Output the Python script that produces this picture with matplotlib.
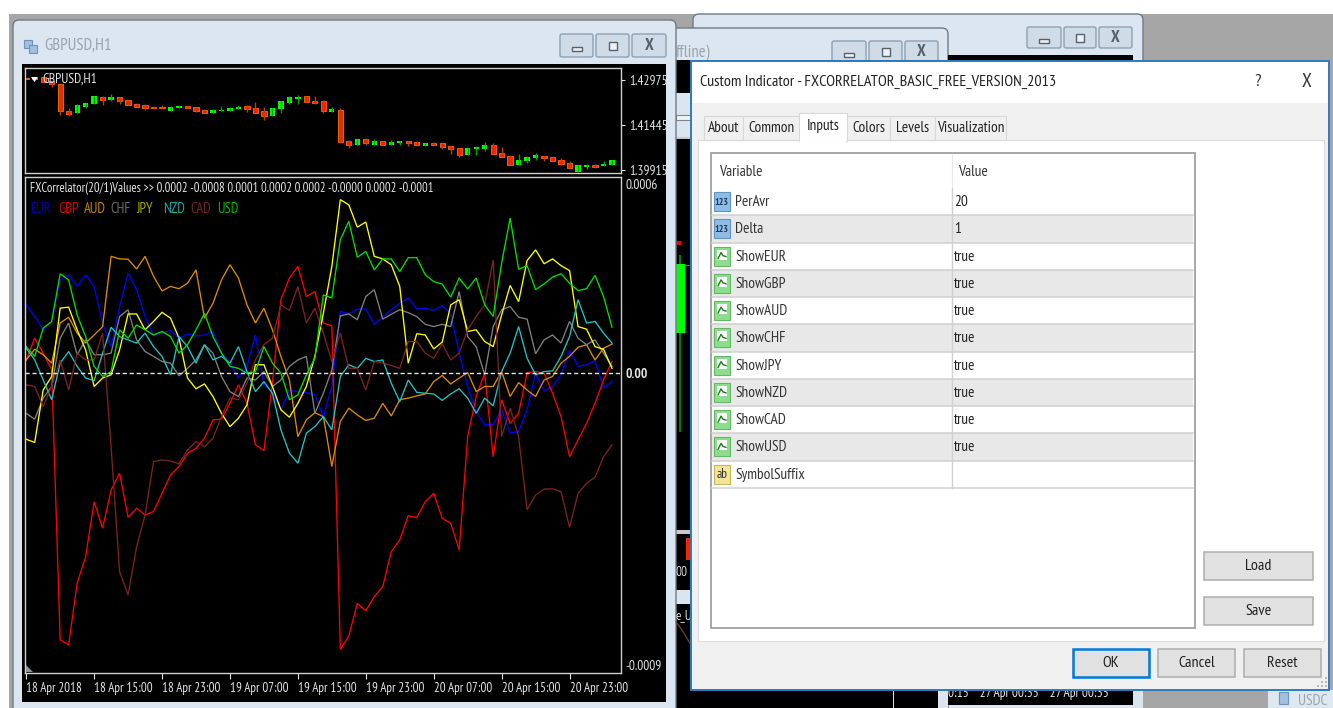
import matplotlib
matplotlib.use("Agg")
import matplotlib.pyplot as plt
import numpy as np
from matplotlib.patches import FancyBboxPatch, Polygon, Rectangle

plt.rcParams["font.family"] = ["PT Sans Narrow", "Archivo Narrow", "Liberation Sans", "DejaVu Sans"]

# GBPUSD H1 candles, prices in points (1e-5)
opens = [143033, 143033, 143055, 142943, 142830, 141929, 141839, 142053, 142166, 142380,
         142290, 142380, 142278, 142154, 142109, 142053, 142053, 141929, 142019, 142098,
         142053, 141963, 141839, 141929, 141929, 141985, 142076, 142008, 141918, 141738,
         141974, 142199, 142323, 142425, 142267, 142244, 141884, 141963, 140916, 140781,
         140961, 140781, 140905, 140781, 140837, 140916, 140871, 140747, 140837, 140826,
         140724, 140679, 140420, 140646, 140634, 140769, 140499, 140398, 140094, 140229,
         140319, 140398, 140364, 140263, 140173, 139869, 140026, 140094, 140049, 140094]
closes = [142988, 142988, 142898, 142830, 141929, 141817, 142109, 142188, 142425, 142290,
          142391, 142244, 142121, 142064, 142019, 142019, 142019, 142053, 142098, 142031,
          141929, 141839, 141963, 141963, 142019, 142064, 141985, 141839, 141738, 142008,
          142256, 142380, 142402, 142211, 142199, 141929, 141974, 140882, 140769, 140961,
          140826, 140916, 140781, 140871, 140916, 140837, 140769, 140826, 140781, 140691,
          140646, 140420, 140679, 140691, 140781, 140465, 140364, 140105, 140274, 140364,
          140420, 140319, 140229, 140139, 140004, 140083, 140083, 140038, 140139, 140274]
highs = [143033, 143033, 143055, 142943, 142830, 142019, 142154, 142188, 142425, 142425,
         142481, 142380, 142278, 142199, 142154, 142076, 142109, 142087, 142098, 142098,
         142053, 141997, 141997, 142076, 142064, 142109, 142132, 142211, 142053, 142008,
         142256, 142425, 142470, 142425, 142425, 142290, 142064, 142019, 140950, 140961,
         141006, 140961, 140905, 140927, 140916, 140916, 140916, 140826, 140871, 140826,
         140724, 140679, 140679, 140736, 140871, 140826, 140691, 140443, 140454, 140409,
         140499, 140398, 140398, 140319, 140218, 140083, 140139, 140128, 140229, 140274]
lows = [142988, 142988, 142898, 142717, 141794, 141738, 141839, 142019, 142166, 142109,
        142244, 142166, 142121, 142064, 141963, 141974, 142019, 141929, 142019, 142031,
        141884, 141839, 141839, 141929, 141929, 141985, 141884, 141839, 141603, 141738,
        141839, 142166, 142166, 142211, 142166, 141839, 141884, 140826, 140679, 140781,
        140781, 140781, 140781, 140781, 140781, 140736, 140736, 140747, 140769, 140646,
        140454, 140375, 140420, 140420, 140555, 140465, 140364, 140105, 140094, 140173,
        140274, 140229, 140229, 140094, 140004, 139869, 139959, 140004, 140049, 140094]

# FXCorrelator lines, values in 1e-6
eur = [211, 175, 134, 160, 288, 304, 268, 304, 268, 155, 82, 206, 309, 258, 175, 118, 124, 132, 108, 122,
       115, 118, 129, 62, 31, -15, 21, 118, -36, -57, -113, -52, -57, -60, -67, -134, -41, 191, 183, 198,
       198, 151, 173, 196, 216, 232, 198, 201, 194, 209, 183, 62, -41, -118, -160, -158, -113, -185, -180, -113,
       0, -55, -41, -5, 70, 21, 26, 39, -46, -26]
gbp = [41, 108, 62, 10, -824, -839, -649, -567, -397, -479, -361, -309, -445, -417, -438, -427, -371, -314, -288, -247,
       -232, -201, -144, -142, -93, -36, -93, -221, -239, -31, 227, 294, 330, 237, 252, 155, 146, -853, -812, -711,
       -734, -690, -659, -551, -515, -440, -446, -397, -371, -448, -464, -546, -196, -72, 0, -258, -82, -155, -124, 2,
       5, 0, -62, -134, -258, -206, -155, -93, -21, 36]
aud = [41, 74, 57, 31, 155, 173, 124, 93, 118, 144, 361, 353, 352, 322, 361, 299, 254, 268, 261, 278,
       319, 170, 216, 288, 335, 294, 211, 155, 201, 134, 52, -21, -196, -144, -122, -134, -288, -149, -108, -129,
       -146, -139, -93, -132, -82, -77, -70, -64, -26, -7, -33, -15, 2, -57, -41, -41, 5, -72, -29, -52,
       -72, -21, -10, 31, 52, 80, 88, 41, 77, 90]
chf = [-124, -142, -77, -41, 108, 155, 57, 103, 57, 57, 62, 175, 196, 103, 67, 52, 36, 31, -8, 15,
       41, 88, 62, -10, -57, -72, -15, -21, 5, -41, -21, 21, 41, 52, -124, -62, 10, 177, 183, 165,
       237, 258, 167, 182, 196, 187, 175, 151, 144, 151, 144, 252, 113, 82, -5, 144, 196, 206, 173, 167,
       60, 103, 118, 93, 160, 108, 88, 103, 62, 21]
jpy = [-204, -214, -52, -10, 201, 204, 134, 72, -41, -15, -5, 72, 183, 183, 134, 160, 188, 170, 108, -15,
       -48, -33, -72, -124, -165, -139, -98, 26, 26, -41, -113, -136, -93, -41, 52, 185, 330, 536, 520, 451,
       467, 361, 353, 335, 268, 31, 122, 118, 75, 96, 211, 227, 129, 134, 98, 82, 180, 271, 221, 348,
       381, 338, 353, 332, 317, 144, 136, 82, 74, 15]
nzd = [77, 41, -21, -82, 31, 67, 21, -15, -23, 62, 142, 113, 103, 93, 124, 82, 52, -5, 113, 82,
       31, 88, 41, 52, 31, 82, 5, -57, -26, -62, -175, -247, -278, -185, -165, -134, -175, -10, 26, 15,
       46, 36, 41, -31, -88, -21, -59, -62, -64, -84, -64, -48, -77, -124, -77, -101, 5, 62, 144, 46,
       -5, 5, 7, 52, 113, 227, 155, 160, 124, 93]
cad = [-36, -41, -103, -41, 41, -52, 62, 41, 41, 124, -227, -613, -685, -536, -438, -273, -268, -271, -280, -237,
       -211, -227, -201, -134, -77, -82, -31, 41, 88, 108, 211, 194, 268, 155, 201, 124, 36, 124, 15, 15,
       -52, 36, 31, 24, 15, 98, 98, 62, 46, 91, 41, 62, 134, 175, 211, 350, -196, -108, -196, -422,
       -376, -358, -357, -366, -476, -371, -340, -321, -258, -221]
usd = [82, 52, 139, 160, 307, 288, 180, 113, 21, -10, 5, 134, 108, 149, 134, 118, 129, 113, 62, 88,
       134, 185, 113, 62, 21, 15, 0, 5, 82, 31, 0, -82, -67, -5, 46, 242, 232, 412, 469, 358,
       376, 319, 353, 353, 314, 357, 357, 304, 283, 275, 235, 294, 260, 294, 211, 175, 340, 479, 321, 332,
       258, 276, 297, 307, 278, 255, 261, 302, 237, 142]

currencies = ["EUR", "GBP", "AUD", "CHF", "JPY", "NZD", "CAD", "USD"]
line_colors = ["#0000ff", "#ff0000", "#dc8c00", "#808080", "#ffff00", "#20c4c4", "#7e2222", "#00e000"]
legend_colors = ["#0000b4", "#d80000", "#c87c00", "#6a6a6a", "#a8a800", "#1ea4a4", "#7a2020", "#00b400"]
legend_x = [30, 58, 83.5, 110.5, 136.5, 163, 190, 217]

time_ticks = [0, 8, 16, 24, 32, 40, 48, 56, 64]
time_labels = ["18 Apr 2018", "18 Apr 15:00", "18 Apr 23:00", "19 Apr 07:00", "19 Apr 15:00",
               "19 Apr 23:00", "20 Apr 07:00", "20 Apr 15:00", "20 Apr 23:00"]
price_ticks = [1.42975, 1.41445, 1.39915]
indicator_ticks = [0.0006, 0.0, -0.0009]
indicator_labels = ["0.0006", "0.00", "-0.0009"]

tab_names = ["About", "Common", "Inputs", "Colors", "Levels", "Visualization"]
tab_edges = [704, 743, 800, 847, 890, 935, 1006]
input_names = ["PerAvr", "Delta", "ShowEUR", "ShowGBP", "ShowAUD", "ShowCHF", "ShowJPY", "ShowNZD",
               "ShowCAD", "ShowUSD", "SymbolSuffix"]
input_values = ["20", "1", "true", "true", "true", "true", "true", "true", "true", "true", ""]

W, H = 1333, 708
CHART_TEXT = "#e4e4e4"
fig = plt.figure(figsize=(W / 100, H / 100), dpi=100, facecolor="white")


def px_axes(z):
    a = fig.add_axes([0, 0, 1, 1], zorder=z)
    a.set_xlim(0, W)
    a.set_ylim(H, 0)
    a.axis("off")
    a.patch.set_alpha(0)
    return a


def rect(a, x0, y0, x1, y1, fc, ec="none", lw=1.0):
    a.add_patch(Rectangle((x0, y0), x1 - x0, y1 - y0, facecolor=fc, edgecolor=ec, linewidth=lw))


def label(a, x, y, s, size=10, color="#333333", ha="left", **kw):
    a.text(x, y, s, fontsize=size, color=color, ha=ha, va="center", **kw)


def mdi_window(a, x0, y0, x1, y1, top_col="#d6e1eb", bot_col="#c8d7e5"):
    box = FancyBboxPatch((x0 + 6, y0 + 6), x1 - x0 - 12, y1 - y0 - 12, boxstyle="round,pad=6",
                         facecolor="#dbe6f0", edgecolor="#6f7a84", linewidth=1.0)
    a.add_patch(box)
    grad = np.linspace(0, 1, 40).reshape(-1, 1)
    top = np.array(matplotlib.colors.to_rgb(top_col))
    bot = np.array(matplotlib.colors.to_rgb(bot_col))
    img = a.imshow((top + (bot - top) * grad[..., None]), extent=(x0, x1, y0 + 46, y0), aspect="auto")
    img.set_clip_path(box)
    a.set_xlim(0, W)
    a.set_ylim(H, 0)


def title_buttons(a, xs, y0, y1):
    names = ["min", "max", "close"]
    for (x0, x1), name in zip(xs, names):
        a.add_patch(FancyBboxPatch((x0 + 2, y0 + 2), x1 - x0 - 4, y1 - y0 - 4, boxstyle="round,pad=2",
                                   facecolor="#cfdce8", edgecolor="#8ea0b2", linewidth=1.0))
        cx, cy = (x0 + x1) / 2, (y0 + y1) / 2
        if name == "min":
            rect(a, cx - 5, cy + 1, cx + 5, cy + 5, "#eef2f6", ec="#55616d")
        elif name == "max":
            rect(a, cx - 4, cy - 4, cx + 4, cy + 4, "#eef2f6", ec="#55616d")
        else:
            label(a, cx, cy, "X", size=12, color="#55616d", ha="center", fontweight="bold")


# desktop and the windows behind
bg = px_axes(0)
rect(bg, 9, 14, W, H, "#a6a6a6")
mdi_window(bg, 693, 14, 1143, H + 20)
title_buttons(bg, [(1027, 1061), (1064, 1096), (1099, 1132)], 27, 48)
mdi_window(bg, 660, 28, 948, H + 20)
title_buttons(bg, [(832, 866), (869, 902), (905, 938)], 41, 63)
label(bg, 676, 53, "ffline)", size=12, color="#9aa4ae")
rect(bg, 948, 55, 1133, H - 3, "black")
rect(bg, 670, 60, 948, H, "black")
rect(bg, 676, 93, 691, 137, "#dbe5ee")
rect(bg, 676, 115, 691, 120, "#f2f2f2", ec="#7c8792", lw=0.8)
rect(bg, 676, 137, 691, 139, "#c8c8c8")
rect(bg, 677, 241, 681, 245, "#ff0000")
rect(bg, 679, 255, 680.5, 432, "#008000")
rect(bg, 676, 264, 685, 333, "#00ff00")
rect(bg, 685, 265, 691, 266, "#5a6a7a")
rect(bg, 676, 530, 691, 534, "#c8c8c8")
rect(bg, 686, 538, 691, 560, "#ff2000")
label(bg, 676, 573, "00", size=9.5, color="#dddddd")
rect(bg, 676, 590, 691, 604, "#dbe5ee")
label(bg, 676, 616, "e_U", size=9.5, color="#dddddd")
bg.plot([676, 682, 691], [622, 630, 645], color="#7a4a20", lw=0.8)
rect(bg, 893, 690, 894, H, "#e0e0e0")
rect(bg, 938, 690, 948, H, "#dbe5ee")
label(bg, 948, 693, "0:15    27 Apr 00:35    27 Apr 00:35", size=9.5, color="#e8e8e8")
rect(bg, 1133, 690, 1143, H, "#dbe5ee")
rect(bg, 1143, 690, 1268, H, "#a6a6a6")
rect(bg, 1268, 690, W, H, "#dde8f1")
rect(bg, 1279, 692, 1288, 704, "#9fc0de", ec="#6d94b8", lw=0.8)
label(bg, 1298, 701, "USDC", size=11, color="#9aa4ae")

# main window frame
mdi_window(bg, 13, 20, 676, H + 20)
rect(bg, 22, 64, 666, 702, "black")
rect(bg, 24, 40, 32, 48, "#9fc0de", ec="#6d94b8", lw=0.8)
rect(bg, 29, 45, 37, 53, "#9fc0de", ec="#6d94b8", lw=0.8)
label(bg, 44, 46, "GBPUSD,H1", size=12, color="#9aa4ae")
title_buttons(bg, [(560, 593), (596, 629), (632, 666)], 34, 57)

# price and indicator panels share the same bar scale
x_left, x_right = 25, 621
bar_x0, bar_step = 26.2, 8.49
xlim = ((x_left - bar_x0) / bar_step, (x_right - bar_x0) / bar_step)
bars = np.arange(len(opens))


def panel(y_top, y_bot, z):
    a = fig.add_axes([x_left / W, 1 - y_bot / H, (x_right - x_left) / W, (y_bot - y_top) / H],
                     facecolor="black", zorder=z)
    for s in a.spines.values():
        s.set_color("#d0d0d0")
        s.set_linewidth(1.0)
    a.set_xlim(*xlim)
    a.yaxis.tick_right()
    return a


ax_price = panel(68, 173, 1)
o = np.array(opens) / 1e5
c = np.array(closes) / 1e5
h = np.array(highs) / 1e5
l = np.array(lows) / 1e5
up = c >= o
ax_price.vlines(bars[up], l[up], h[up], color="#00a000", lw=1.0)
ax_price.vlines(bars[~up], l[~up], h[~up], color="#b84000", lw=1.0)
ax_price.bar(bars[up], (c - o)[up], bottom=o[up], width=0.62, color="#00ff00", linewidth=0)
ax_price.bar(bars[~up], (o - c)[~up], bottom=c[~up], width=0.62, color="#ff2000", edgecolor="#ff5a00", linewidth=0.7)
ax_price.set_ylim(1.39823, 1.43372)
ax_price.set_xticks([])
ax_price.set_yticks(price_ticks)
ax_price.set_yticklabels(["%.5f" % p for p in price_ticks], fontsize=9.6, color=CHART_TEXT)
ax_price.tick_params(axis="y", colors=CHART_TEXT, length=3, width=0.8, pad=3)

ax_ind = panel(177, 673, 2)
series = [eur, gbp, aud, chf, jpy, nzd, cad, usd]
for values, col in zip(series, line_colors):
    ax_ind.plot(bars, np.array(values) * 1e-6, color=col, lw=0.95, solid_joinstyle="miter")
ax_ind.axhline(0, color=CHART_TEXT, lw=1.0, ls=(0, (3, 2)))
ax_ind.set_ylim(-926e-6, 606e-6)
ax_ind.set_xticks(time_ticks)
ax_ind.set_xticklabels(time_labels, fontsize=9.4, color=CHART_TEXT, ha="left")
ax_ind.tick_params(axis="x", colors=CHART_TEXT, length=4, width=0.8, pad=2.5)
ax_ind.set_yticks(indicator_ticks)
ax_ind.set_yticklabels(indicator_labels, fontsize=9.6, color=CHART_TEXT)
ax_ind.tick_params(axis="y", colors=CHART_TEXT, length=0, pad=3)
ax_ind.get_yticklabels()[0].set_va("top")
ax_ind.get_yticklabels()[1].set_fontweight("bold")

# overlay: chart captions and dialog
fg = px_axes(5)
fg.add_patch(Polygon([(31, 77), (38, 77), (34.5, 82)], facecolor="white", edgecolor="none"))
label(fg, 42, 79, "GBPUSD,H1", size=9.8, color=CHART_TEXT)
label(fg, 30, 188.5, "FXCorrelator(20/1)Values >> 0.0002 -0.0008 0.0001 0.0002 0.0002 -0.0000 0.0002 -0.0001",
      size=9.1, color=CHART_TEXT)
for name, col, x in zip(currencies, legend_colors, legend_x):
    label(fg, x, 209, name, size=10.5, color=col)
fg.add_patch(Polygon([(26, 665), (33, 672), (26, 672)], facecolor="#8c96a0", edgecolor="none"))

rect(fg, 691, 61, 1329, 690, "#f0f0f0", ec="#2a7cc4", lw=1.4)
rect(fg, 692, 62, 1328, 103, "white")
label(fg, 700, 82, "Custom Indicator - FXCORRELATOR_BASIC_FREE_VERSION_2013", size=11.6, color="#222222")
label(fg, 1258, 82, "?", size=13, color="#333333", ha="center")
label(fg, 1306, 82, "X", size=14, color="#333333", ha="center")

rect(fg, 698, 140, 1324, 641, "white", ec="#dcdcdc", lw=0.8)
for i, name in enumerate(tab_names):
    x0, x1 = tab_edges[i], tab_edges[i + 1]
    if name == "Inputs":
        rect(fg, x0 - 1, 113, x1, 141, "white", ec="#d8d8d8", lw=0.8)
        rect(fg, x0, 139, x1 - 1, 142, "white")
        label(fg, (x0 + x1) / 2, 126, name, size=11, color="#222222", ha="center")
    else:
        rect(fg, x0, 116, x1, 140, "#f0f0f0", ec="#d8d8d8", lw=0.8)
        label(fg, (x0 + x1) / 2, 128, name, size=11, color="#222222", ha="center")

rect(fg, 711, 153, 1195, 628, "white", ec="#a0a0a0", lw=1.3)
label(fg, 719, 172, "Variable", size=11, color="#333333")
label(fg, 958, 172, "Value", size=11, color="#333333")
fg.plot([951.5, 951.5], [155, 188], color="#e8e8e8", lw=0.8)

row_top = 188
row_h = 27.25
for i, (name, val) in enumerate(zip(input_names, input_values)):
    y0 = row_top + i * row_h
    y1 = y0 + row_h
    yc = (y0 + y1) / 2 + 0.5
    if i % 2 == 1:
        rect(fg, 712, y0, 1193, y1, "#e8e8e8")
    fg.plot([712, 1193], [y1, y1], color="#d0d0d0", lw=1.1)
    fg.plot([951.5, 951.5], [y0, y1], color="#d0d0d0", lw=1.0)
    if name.startswith("Show"):
        rect(fg, 714, yc - 10, 730, yc + 9, "#8fdc8f", ec="#63b863", lw=0.8)
        rect(fg, 717, yc - 7, 727, yc + 3, "white")
        fg.plot([718, 721, 723, 726], [yc + 2, yc - 4, yc - 1, yc], color="#1c7a1c", lw=1.0)
    elif name == "SymbolSuffix":
        rect(fg, 714, yc - 10, 730, yc + 9, "#f2e59a", ec="#c8b45a", lw=0.8)
        label(fg, 722, yc, "ab", size=9.5, color="#333333", ha="center")
    else:
        rect(fg, 714, yc - 10, 730, yc + 9, "#8fbce4", ec="#5f94c4", lw=0.8)
        label(fg, 722, yc, "123", size=7, color="#1d3a5c", ha="center", fontweight="bold")
    label(fg, 735, yc, name, size=11, color="#333333")
    if val:
        label(fg, 954, yc, val, size=11, color="#222222")

for (x0, y0, x1, y1, txt) in [(1204, 552, 1313, 580, "Load"), (1204, 597, 1313, 625, "Save"),
                              (1158, 649, 1235, 677, "Cancel"), (1244, 649, 1321, 677, "Reset")]:
    rect(fg, x0, y0, x1, y1, "#e1e1e1", ec="#adadad", lw=1.1)
    label(fg, (x0 + x1) / 2, (y0 + y1) / 2, txt, size=11.5, color="#222222", ha="center")
rect(fg, 1073, 649, 1149, 677, "#e1e1e1", ec="#0078d7", lw=1.8)
label(fg, 1111, 663, "OK", size=11.5, color="#222222", ha="center")
for gx, gy in [(1325, 677), (1325, 681), (1325, 685), (1321, 681), (1321, 685), (1317, 685)]:
    rect(fg, gx, gy, gx + 2, gy + 2, "#b8b8b8")

fig.savefig("out.png", dpi=100, facecolor="white")
plt.close(fig)
